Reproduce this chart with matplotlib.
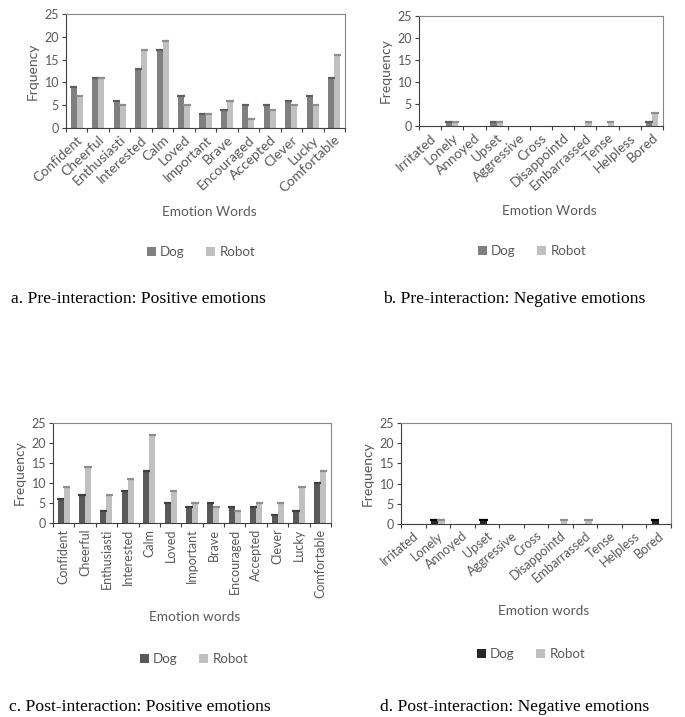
import matplotlib
matplotlib.use("Agg")
import matplotlib.pyplot as plt
import numpy as np
from matplotlib.patches import Patch

# ---------------- data ----------------
pos_words = ["Confident", "Cheerful", "Enthusiasti", "Interested", "Calm", "Loved",
             "Important", "Brave", "Encouraged", "Accepted", "Clever", "Lucky", "Comfortable"]
neg_words = ["Irritated", "Lonely", "Annoyed", "Upset", "Aggressive", "Cross",
             "Disappointd", "Embarrassed", "Tense", "Helpless", "Bored"]

pre_pos_dog = [9, 11, 6, 13, 17, 7, 3, 4, 5, 5, 6, 7, 11]
pre_pos_robot = [7, 11, 5, 17, 19, 5, 3, 6, 2, 4, 5, 5, 16]
pre_neg_dog = [0, 1, 0, 1, 0, 0, 0, 0, 0, 0, 1]
pre_neg_robot = [0, 1, 0, 1, 0, 0, 0, 1, 1, 0, 3]
post_pos_dog = [6, 7, 3, 8, 13, 5, 4, 5, 4, 4, 2, 3, 10]
post_pos_robot = [9, 14, 7, 11, 22, 8, 5, 4, 3, 5, 5, 9, 13]
post_neg_dog = [0, 1, 0, 1, 0, 0, 0, 0, 0, 0, 1]
post_neg_robot = [0, 1, 0, 0, 0, 0, 1, 1, 0, 0, 0]

y_ticks = [0, 5, 10, 15, 20, 25]
series_names = ["Dog", "Robot"]
captions = ["a. Pre-interaction: Positive emotions",
            "b. Pre-interaction: Negative emotions",
            "c. Post-interaction: Positive emotions",
            "d. Post-interaction: Negative emotions"]

W, H = 685, 717
fig = plt.figure(figsize=(W / 100, H / 100), dpi=100)
TXT = "#595959"
AX = "#868686"
FONT = "Lato"
plt.rcParams["font.family"] = [FONT, "DejaVu Sans"]


def fx(px):
    return px / W


def fy(py):
    return 1 - py / H


panels = [
    dict(rect=(66, 14, 345, 128), cats=pos_words, dog=pre_pos_dog, rob=pre_pos_robot,
         dogc="#7f7f7f", dogcap="#5e5e5e", rot=43, tfs=10.0, ylabel="Frquency",
         xl=("Emotion Words", 209, 212), leg=(201, 252), cap=(11, 299)),
    dict(rect=(419, 16, 663, 126), cats=neg_words, dog=pre_neg_dog, rob=pre_neg_robot,
         dogc="#7f7f7f", dogcap="#5e5e5e", rot=42, tfs=9.8, ylabel="Frequency",
         xl=("Emotion Words", 549, 211), leg=(532, 251), cap=(383, 299)),
    dict(rect=(53, 423, 331, 523), cats=pos_words, dog=post_pos_dog, rob=post_pos_robot,
         dogc="#595959", dogcap="#3f3f3f", rot=90, tfs=9.0, ylabel="Frequency",
         xl=("Emotion words", 195, 617), leg=(194, 659), cap=(9, 707)),
    dict(rect=(401, 423, 671, 524), cats=neg_words, dog=post_neg_dog, rob=post_neg_robot,
         dogc="#262626", dogcap="#000000", rot=40, tfs=9.2, ylabel="Frequency",
         xl=("Emotion words", 544, 611), leg=(531, 654), cap=(380, 707)),
]

robc = "#c0c0c0"
robcap = "#8e8e8e"
bw = 0.28

for i, p in enumerate(panels):
    l, t, r, b = p["rect"]
    ax = fig.add_axes([fx(l), fy(b), fx(r) - fx(l), (b - t) / H])
    n = len(p["cats"])
    x = np.arange(n)
    dog = np.array(p["dog"], dtype=float)
    rob = np.array(p["rob"], dtype=float)
    ax.bar(x - bw / 2, dog, bw, color=p["dogc"], zorder=2)
    ax.bar(x + bw / 2, rob, bw, color=robc, zorder=2)
    md = dog > 0
    mr = rob > 0
    ax.hlines(dog[md], (x - bw / 2)[md] - bw * 0.6, (x - bw / 2)[md] + bw * 0.6,
              color=p["dogcap"], lw=1.6, zorder=3)
    ax.hlines(rob[mr], (x + bw / 2)[mr] - bw * 0.6, (x + bw / 2)[mr] + bw * 0.6,
              color=robcap, lw=1.6, zorder=3)

    ax.set_xlim(-0.5, n - 0.5)
    ax.set_ylim(0, 25)
    ax.set_yticks(y_ticks)
    ax.set_xticks(np.arange(-0.5, n, 1.0))
    ax.set_xticklabels([])
    ax.set_xticks(x, minor=True)
    if p["rot"] != 90:
        ax.set_xticklabels(p["cats"], minor=True, rotation=p["rot"], ha="right",
                           rotation_mode="anchor", fontsize=p["tfs"], color=TXT)
    else:
        ax.set_xticklabels(p["cats"], minor=True, rotation=90, ha="center",
                           fontsize=p["tfs"], color=TXT)
    ax.tick_params(axis="x", which="minor", length=0, pad=4)
    ax.tick_params(axis="x", which="major", direction="out", length=3, color="#404040")
    ax.tick_params(axis="y", direction="out", length=3, color="#404040",
                   labelsize=9, labelcolor=TXT, pad=2)
    for s in ax.spines.values():
        s.set_color(AX)
        s.set_linewidth(0.8)
    ax.spines["bottom"].set_color("#404040")
    ax.spines["left"].set_color("#404040")
    ax.set_ylabel(p["ylabel"], fontsize=10, color=TXT, labelpad=4)

    txt, xx, yy = p["xl"]
    fig.text(fx(xx), fy(yy), txt, ha="center", va="center", fontsize=9.8, color=TXT)

    handles = [Patch(facecolor=p["dogc"], edgecolor="none"),
               Patch(facecolor=robc, edgecolor="none")]
    lx, ly = p["leg"]
    leg = fig.legend(handles, series_names, loc="center", bbox_to_anchor=(fx(lx), fy(ly)),
                     ncol=2, frameon=False, fontsize=9.6, handlelength=0.7, handleheight=0.7,
                     handletextpad=0.3, columnspacing=1.6)
    for tx in leg.get_texts():
        tx.set_color(TXT)

    cx, cy = p["cap"]
    fig.text(fx(cx), fy(cy), captions[i], ha="left", va="center", fontsize=12.6,
             family=["Liberation Serif", "DejaVu Serif"], color="black")

fig.savefig("out.png", dpi=100)
